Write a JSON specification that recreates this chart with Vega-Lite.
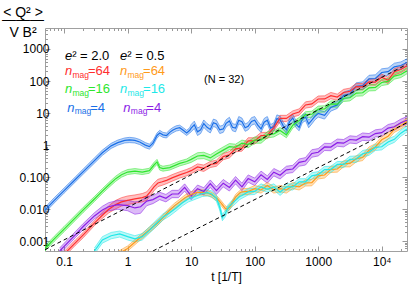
{
"$schema":"https://vega.github.io/schema/vega-lite/v6.json",
"autosize":{"type":"none"},
"padding":{"left":45,"top":28,"right":2,"bottom":33},
"width":362,"height":223,
"config":{"view":{"stroke":"#a0a0a0","strokeWidth":1},"font":"Liberation Sans"},
"datasets":{
"curves":[
{"s":"b","t":0.05,"q":0.0095,"lo":0.0079,"hi":0.0114},
{"s":"b","t":0.07,"q":0.019,"lo":0.0158,"hi":0.023},
{"s":"b","t":0.1,"q":0.038,"lo":0.032,"hi":0.046},
{"s":"b","t":0.15,"q":0.085,"lo":0.071,"hi":0.102},
{"s":"b","t":0.2,"q":0.15,"lo":0.125,"hi":0.18},
{"s":"b","t":0.3,"q":0.33,"lo":0.275,"hi":0.4},
{"s":"b","t":0.4,"q":0.58,"lo":0.48,"hi":0.7},
{"s":"b","t":0.55,"q":0.95,"lo":0.79,"hi":1.14},
{"s":"b","t":0.7,"q":1.2,"lo":1.0,"hi":1.44},
{"s":"b","t":0.9,"q":1.4,"lo":1.17,"hi":1.68},
{"s":"b","t":1.07,"q":1.45,"lo":1.2,"hi":1.75},
{"s":"b","t":1.3,"q":1.4,"lo":1.17,"hi":1.68},
{"s":"b","t":1.55,"q":1.25,"lo":1.04,"hi":1.5},
{"s":"b","t":1.9,"q":1.0,"lo":0.83,"hi":1.2},
{"s":"b","t":2.2,"q":0.9,"lo":0.75,"hi":1.08},
{"s":"b","t":2.5,"q":1.15,"lo":0.96,"hi":1.38},
{"s":"b","t":2.9,"q":2.0,"lo":1.67,"hi":2.4},
{"s":"b","t":3.2,"q":2.4,"lo":2.0,"hi":2.9},
{"s":"b","t":3.6,"q":2.1,"lo":1.75,"hi":2.5},
{"s":"b","t":4.1,"q":2.0,"lo":1.67,"hi":2.4},
{"s":"b","t":4.6,"q":2.5,"lo":2.1,"hi":3.0},
{"s":"b","t":5.1,"q":2.9,"lo":2.4,"hi":3.5},
{"s":"b","t":5.8,"q":3.3,"lo":2.75,"hi":4.0},
{"s":"b","t":6.6,"q":3.5,"lo":2.9,"hi":4.2},
{"s":"b","t":7.5,"q":2.9,"lo":2.4,"hi":3.5},
{"s":"b","t":8.5,"q":2.4,"lo":2.0,"hi":2.9},
{"s":"b","t":9.5,"q":2.9,"lo":2.4,"hi":3.5},
{"s":"b","t":10,"q":3.4,"lo":2.6,"hi":4.4},
{"s":"b","t":11.2,"q":4.3,"lo":3.3,"hi":5.6},
{"s":"b","t":12.6,"q":2.6,"lo":2.0,"hi":3.4},
{"s":"b","t":14.1,"q":3.0,"lo":2.3,"hi":3.9},
{"s":"b","t":15.8,"q":4.7,"lo":3.6,"hi":6.1},
{"s":"b","t":17.8,"q":3.6,"lo":2.8,"hi":4.7},
{"s":"b","t":20,"q":3.1,"lo":2.4,"hi":4.0},
{"s":"b","t":22.4,"q":5.0,"lo":3.85,"hi":6.5},
{"s":"b","t":25,"q":4.6,"lo":3.5,"hi":6.0},
{"s":"b","t":28.2,"q":3.0,"lo":2.3,"hi":3.9},
{"s":"b","t":32,"q":3.2,"lo":2.5,"hi":4.2},
{"s":"b","t":35.5,"q":4.8,"lo":3.7,"hi":6.2},
{"s":"b","t":40,"q":5.7,"lo":4.4,"hi":7.4},
{"s":"b","t":44.7,"q":3.6,"lo":2.8,"hi":4.7},
{"s":"b","t":50,"q":3.4,"lo":2.6,"hi":4.4},
{"s":"b","t":56.2,"q":6.0,"lo":4.6,"hi":7.8},
{"s":"b","t":63,"q":5.4,"lo":4.2,"hi":7.0},
{"s":"b","t":70.8,"q":3.5,"lo":2.7,"hi":4.55},
{"s":"b","t":79,"q":3.9,"lo":3.0,"hi":5.1},
{"s":"b","t":89.1,"q":5.5,"lo":4.2,"hi":7.2},
{"s":"b","t":100,"q":6.0,"lo":4.6,"hi":7.8},
{"s":"b","t":112,"q":4.2,"lo":3.2,"hi":5.5},
{"s":"b","t":126,"q":3.2,"lo":2.5,"hi":4.2},
{"s":"b","t":141,"q":5.2,"lo":4.0,"hi":6.8},
{"s":"b","t":158,"q":6.0,"lo":4.6,"hi":7.8},
{"s":"b","t":178,"q":3.4,"lo":2.6,"hi":4.4},
{"s":"b","t":200,"q":3.8,"lo":2.9,"hi":4.9},
{"s":"b","t":224,"q":6.8,"lo":5.2,"hi":8.8},
{"s":"b","t":251,"q":6.2,"lo":4.8,"hi":8.1},
{"s":"b","t":282,"q":4.0,"lo":3.1,"hi":5.2},
{"s":"b","t":316,"q":3.0,"lo":2.3,"hi":3.9},
{"s":"b","t":355,"q":5.4,"lo":4.2,"hi":7.0},
{"s":"b","t":398,"q":7.0,"lo":5.4,"hi":9.1},
{"s":"b","t":447,"q":4.5,"lo":3.5,"hi":5.9},
{"s":"b","t":501,"q":3.6,"lo":2.8,"hi":4.7},
{"s":"b","t":562,"q":6.5,"lo":5.0,"hi":8.5},
{"s":"b","t":631,"q":7.5,"lo":5.8,"hi":9.8},
{"s":"b","t":708,"q":4.6,"lo":3.5,"hi":6.0},
{"s":"b","t":794,"q":6.0,"lo":4.6,"hi":7.8},
{"s":"b","t":891,"q":8.0,"lo":6.2,"hi":10.4},
{"s":"b","t":1000,"q":9.8,"lo":7.5,"hi":12.7},
{"s":"b","t":1260,"q":8.5,"lo":6.5,"hi":11},
{"s":"b","t":1580,"q":15,"lo":11.5,"hi":19.5},
{"s":"b","t":2000,"q":18,"lo":14,"hi":23},
{"s":"b","t":2510,"q":35,"lo":27,"hi":45},
{"s":"b","t":3160,"q":40,"lo":31,"hi":52},
{"s":"b","t":3980,"q":68,"lo":52,"hi":88},
{"s":"b","t":5010,"q":72,"lo":55,"hi":94},
{"s":"b","t":6310,"q":116,"lo":89,"hi":151},
{"s":"b","t":7940,"q":120,"lo":92,"hi":156},
{"s":"b","t":10000,"q":184,"lo":142,"hi":240},
{"s":"b","t":12600,"q":195,"lo":150,"hi":254},
{"s":"b","t":15800,"q":276,"lo":213,"hi":360},
{"s":"b","t":20000,"q":304,"lo":234,"hi":395},
{"s":"b","t":25000,"q":380,"lo":293,"hi":494},

{"s":"r","t":0.1,"q":0.0004,"lo":0.00033,"hi":0.00048},
{"s":"r","t":0.15,"q":0.0009,"lo":0.00075,"hi":0.0011},
{"s":"r","t":0.2,"q":0.0016,"lo":0.0013,"hi":0.0019},
{"s":"r","t":0.3,"q":0.0037,"lo":0.0031,"hi":0.0044},
{"s":"r","t":0.4,"q":0.0065,"lo":0.0052,"hi":0.0081},
{"s":"r","t":0.5,"q":0.0098,"lo":0.0076,"hi":0.0127},
{"s":"r","t":0.65,"q":0.014,"lo":0.0104,"hi":0.019},
{"s":"r","t":0.8,"q":0.017,"lo":0.0126,"hi":0.023},
{"s":"r","t":1.0,"q":0.019,"lo":0.014,"hi":0.026},
{"s":"r","t":1.3,"q":0.021,"lo":0.0156,"hi":0.028},
{"s":"r","t":1.7,"q":0.023,"lo":0.017,"hi":0.031},
{"s":"r","t":2.0,"q":0.026,"lo":0.019,"hi":0.035},
{"s":"r","t":2.3,"q":0.036,"lo":0.027,"hi":0.049},
{"s":"r","t":2.6,"q":0.05,"lo":0.038,"hi":0.066},
{"s":"r","t":3.0,"q":0.066,"lo":0.051,"hi":0.086},
{"s":"r","t":3.5,"q":0.072,"lo":0.056,"hi":0.094},
{"s":"r","t":4.1,"q":0.08,"lo":0.063,"hi":0.1},
{"s":"r","t":5.0,"q":0.095,"lo":0.075,"hi":0.12},
{"s":"r","t":6.6,"q":0.118,"lo":0.094,"hi":0.148},
{"s":"r","t":8.5,"q":0.14,"lo":0.11,"hi":0.175},
{"s":"r","t":10,"q":0.16,"lo":0.128,"hi":0.2},
{"s":"r","t":12.6,"q":0.21,"lo":0.168,"hi":0.26},
{"s":"r","t":15.8,"q":0.19,"lo":0.152,"hi":0.24},
{"s":"r","t":20,"q":0.25,"lo":0.2,"hi":0.31},
{"s":"r","t":25,"q":0.27,"lo":0.22,"hi":0.34},
{"s":"r","t":32,"q":0.44,"lo":0.35,"hi":0.55},
{"s":"r","t":40,"q":0.5,"lo":0.4,"hi":0.63},
{"s":"r","t":50,"q":0.77,"lo":0.62,"hi":0.96},
{"s":"r","t":63,"q":0.81,"lo":0.65,"hi":1.0},
{"s":"r","t":79,"q":1.35,"lo":1.08,"hi":1.7},
{"s":"r","t":100,"q":1.35,"lo":1.08,"hi":1.7},
{"s":"r","t":126,"q":2.0,"lo":1.6,"hi":2.5},
{"s":"r","t":158,"q":2.0,"lo":1.6,"hi":2.5},
{"s":"r","t":200,"q":3.5,"lo":2.8,"hi":4.4},
{"s":"r","t":251,"q":6.8,"lo":5.4,"hi":8.5},
{"s":"r","t":316,"q":6.8,"lo":5.4,"hi":8.5},
{"s":"r","t":398,"q":9.4,"lo":7.5,"hi":11.7},
{"s":"r","t":501,"q":10.8,"lo":8.6,"hi":13.5},
{"s":"r","t":631,"q":17.9,"lo":14.3,"hi":22.4},
{"s":"r","t":794,"q":19.3,"lo":15.4,"hi":24},
{"s":"r","t":1000,"q":27.5,"lo":22,"hi":34},
{"s":"r","t":1260,"q":27.6,"lo":22,"hi":34.5},
{"s":"r","t":1580,"q":35,"lo":28,"hi":44},
{"s":"r","t":2000,"q":31.5,"lo":25,"hi":39},
{"s":"r","t":2510,"q":44,"lo":35,"hi":55},
{"s":"r","t":3160,"q":48,"lo":38,"hi":60},
{"s":"r","t":3980,"q":67,"lo":54,"hi":84},
{"s":"r","t":5010,"q":66,"lo":53,"hi":83},
{"s":"r","t":6310,"q":94,"lo":75,"hi":117},
{"s":"r","t":7940,"q":93,"lo":74,"hi":116},
{"s":"r","t":10000,"q":131,"lo":105,"hi":164},
{"s":"r","t":12600,"q":105,"lo":84,"hi":131},
{"s":"r","t":15800,"q":194,"lo":155,"hi":243},
{"s":"r","t":20000,"q":228,"lo":182,"hi":285},
{"s":"r","t":25000,"q":300,"lo":240,"hi":375},

{"s":"g","t":0.05,"q":0.0006,"lo":0.0005,"hi":0.00072},
{"s":"g","t":0.07,"q":0.0012,"lo":0.001,"hi":0.00144},
{"s":"g","t":0.1,"q":0.0024,"lo":0.002,"hi":0.0029},
{"s":"g","t":0.15,"q":0.0054,"lo":0.0045,"hi":0.0065},
{"s":"g","t":0.2,"q":0.0096,"lo":0.008,"hi":0.0115},
{"s":"g","t":0.3,"q":0.021,"lo":0.0175,"hi":0.025},
{"s":"g","t":0.4,"q":0.037,"lo":0.031,"hi":0.044},
{"s":"g","t":0.5,"q":0.056,"lo":0.047,"hi":0.067},
{"s":"g","t":0.65,"q":0.09,"lo":0.075,"hi":0.108},
{"s":"g","t":0.8,"q":0.12,"lo":0.1,"hi":0.144},
{"s":"g","t":1.0,"q":0.145,"lo":0.121,"hi":0.174},
{"s":"g","t":1.3,"q":0.155,"lo":0.13,"hi":0.186},
{"s":"g","t":1.7,"q":0.145,"lo":0.121,"hi":0.174},
{"s":"g","t":2.2,"q":0.16,"lo":0.133,"hi":0.19},
{"s":"g","t":2.6,"q":0.24,"lo":0.2,"hi":0.29},
{"s":"g","t":2.9,"q":0.3,"lo":0.25,"hi":0.36},
{"s":"g","t":3.2,"q":0.2,"lo":0.167,"hi":0.24},
{"s":"g","t":3.6,"q":0.185,"lo":0.154,"hi":0.22},
{"s":"g","t":4.6,"q":0.2,"lo":0.167,"hi":0.24},
{"s":"g","t":6.6,"q":0.27,"lo":0.225,"hi":0.32},
{"s":"g","t":8.5,"q":0.31,"lo":0.26,"hi":0.37},
{"s":"g","t":10,"q":0.36,"lo":0.29,"hi":0.45},
{"s":"g","t":12.6,"q":0.46,"lo":0.37,"hi":0.58},
{"s":"g","t":15.8,"q":0.48,"lo":0.38,"hi":0.6},
{"s":"g","t":20,"q":0.4,"lo":0.32,"hi":0.5},
{"s":"g","t":25,"q":0.53,"lo":0.42,"hi":0.66},
{"s":"g","t":32,"q":0.7,"lo":0.56,"hi":0.88},
{"s":"g","t":40,"q":0.9,"lo":0.72,"hi":1.12},
{"s":"g","t":50,"q":0.86,"lo":0.69,"hi":1.07},
{"s":"g","t":63,"q":1.15,"lo":0.92,"hi":1.44},
{"s":"g","t":79,"q":1.04,"lo":0.83,"hi":1.3},
{"s":"g","t":100,"q":1.43,"lo":1.14,"hi":1.8},
{"s":"g","t":126,"q":1.44,"lo":1.15,"hi":1.8},
{"s":"g","t":158,"q":2.1,"lo":1.68,"hi":2.6},
{"s":"g","t":200,"q":2.25,"lo":1.8,"hi":2.8},
{"s":"g","t":251,"q":2.85,"lo":2.3,"hi":3.55},
{"s":"g","t":316,"q":2.1,"lo":1.7,"hi":2.65},
{"s":"g","t":398,"q":4.2,"lo":3.4,"hi":5.3},
{"s":"g","t":501,"q":5.9,"lo":4.7,"hi":7.3},
{"s":"g","t":631,"q":8.9,"lo":7.1,"hi":11},
{"s":"g","t":794,"q":9.2,"lo":7.4,"hi":11.5},
{"s":"g","t":1000,"q":13.2,"lo":10.6,"hi":16.5},
{"s":"g","t":1260,"q":13.5,"lo":10.8,"hi":16.9},
{"s":"g","t":1580,"q":19.4,"lo":15.5,"hi":24},
{"s":"g","t":2000,"q":19,"lo":15.2,"hi":23.7},
{"s":"g","t":2510,"q":29,"lo":23,"hi":36},
{"s":"g","t":3160,"q":30,"lo":24,"hi":37.5},
{"s":"g","t":3980,"q":42,"lo":33.6,"hi":52},
{"s":"g","t":5010,"q":43,"lo":34.4,"hi":54},
{"s":"g","t":6310,"q":61,"lo":49,"hi":76},
{"s":"g","t":7940,"q":63,"lo":50,"hi":79},
{"s":"g","t":10000,"q":90,"lo":72,"hi":112},
{"s":"g","t":12600,"q":97,"lo":78,"hi":121},
{"s":"g","t":15800,"q":142,"lo":114,"hi":178},
{"s":"g","t":20000,"q":160,"lo":128,"hi":200},
{"s":"g","t":25000,"q":210,"lo":168,"hi":262},

{"s":"p","t":0.085,"q":0.0005,"lo":0.0004,"hi":0.00062},
{"s":"p","t":0.1,"q":0.0007,"lo":0.00056,"hi":0.00087},
{"s":"p","t":0.15,"q":0.0016,"lo":0.0013,"hi":0.002},
{"s":"p","t":0.2,"q":0.0029,"lo":0.0023,"hi":0.0036},
{"s":"p","t":0.3,"q":0.0062,"lo":0.005,"hi":0.0078},
{"s":"p","t":0.4,"q":0.0095,"lo":0.0073,"hi":0.0124},
{"s":"p","t":0.5,"q":0.012,"lo":0.0089,"hi":0.016},
{"s":"p","t":0.7,"q":0.014,"lo":0.01,"hi":0.019},
{"s":"p","t":1.0,"q":0.013,"lo":0.009,"hi":0.019},
{"s":"p","t":1.3,"q":0.011,"lo":0.007,"hi":0.017},
{"s":"p","t":1.6,"q":0.012,"lo":0.0075,"hi":0.018},
{"s":"p","t":2.0,"q":0.018,"lo":0.013,"hi":0.025},
{"s":"p","t":2.5,"q":0.02,"lo":0.015,"hi":0.027},
{"s":"p","t":3.2,"q":0.026,"lo":0.02,"hi":0.034},
{"s":"p","t":4.0,"q":0.022,"lo":0.017,"hi":0.029},
{"s":"p","t":5.0,"q":0.03,"lo":0.023,"hi":0.039},
{"s":"p","t":6.3,"q":0.03,"lo":0.023,"hi":0.039},
{"s":"p","t":7.9,"q":0.048,"lo":0.037,"hi":0.062},
{"s":"p","t":10,"q":0.026,"lo":0.02,"hi":0.034},
{"s":"p","t":12.6,"q":0.044,"lo":0.034,"hi":0.057},
{"s":"p","t":15.8,"q":0.036,"lo":0.028,"hi":0.047},
{"s":"p","t":20,"q":0.063,"lo":0.048,"hi":0.082},
{"s":"p","t":25,"q":0.038,"lo":0.029,"hi":0.05},
{"s":"p","t":32,"q":0.065,"lo":0.05,"hi":0.085},
{"s":"p","t":40,"q":0.048,"lo":0.037,"hi":0.062},
{"s":"p","t":50,"q":0.081,"lo":0.062,"hi":0.105},
{"s":"p","t":63,"q":0.05,"lo":0.038,"hi":0.065},
{"s":"p","t":79,"q":0.091,"lo":0.07,"hi":0.118},
{"s":"p","t":100,"q":0.072,"lo":0.055,"hi":0.094},
{"s":"p","t":126,"q":0.119,"lo":0.092,"hi":0.155},
{"s":"p","t":158,"q":0.085,"lo":0.065,"hi":0.11},
{"s":"p","t":200,"q":0.144,"lo":0.11,"hi":0.187},
{"s":"p","t":251,"q":0.115,"lo":0.088,"hi":0.15},
{"s":"p","t":316,"q":0.17,"lo":0.13,"hi":0.22},
{"s":"p","t":398,"q":0.18,"lo":0.14,"hi":0.235},
{"s":"p","t":501,"q":0.29,"lo":0.22,"hi":0.37},
{"s":"p","t":631,"q":0.32,"lo":0.24,"hi":0.41},
{"s":"p","t":794,"q":0.55,"lo":0.42,"hi":0.72},
{"s":"p","t":1000,"q":0.6,"lo":0.46,"hi":0.78},
{"s":"p","t":1260,"q":0.88,"lo":0.68,"hi":1.14},
{"s":"p","t":1580,"q":0.87,"lo":0.67,"hi":1.13},
{"s":"p","t":2000,"q":1.19,"lo":0.92,"hi":1.55},
{"s":"p","t":2510,"q":1.15,"lo":0.88,"hi":1.5},
{"s":"p","t":3160,"q":1.5,"lo":1.16,"hi":1.96},
{"s":"p","t":3980,"q":1.44,"lo":1.11,"hi":1.87},
{"s":"p","t":5010,"q":1.84,"lo":1.41,"hi":2.4},
{"s":"p","t":6310,"q":1.77,"lo":1.36,"hi":2.3},
{"s":"p","t":7940,"q":2.3,"lo":1.8,"hi":3.0},
{"s":"p","t":10000,"q":2.45,"lo":1.88,"hi":3.2},
{"s":"p","t":12600,"q":3.4,"lo":2.6,"hi":4.4},
{"s":"p","t":15800,"q":3.75,"lo":2.9,"hi":4.9},
{"s":"p","t":20000,"q":5.0,"lo":3.8,"hi":6.5},
{"s":"p","t":25000,"q":6.0,"lo":4.6,"hi":7.8},

{"s":"o","t":0.7,"q":0.0004,"lo":0.00033,"hi":0.00048},
{"s":"o","t":1.0,"q":0.0006,"lo":0.0005,"hi":0.00072},
{"s":"o","t":1.5,"q":0.0012,"lo":0.001,"hi":0.00144},
{"s":"o","t":2.2,"q":0.0023,"lo":0.0019,"hi":0.0028},
{"s":"o","t":3.0,"q":0.0038,"lo":0.0032,"hi":0.0046},
{"s":"o","t":3.6,"q":0.0055,"lo":0.0046,"hi":0.0066},
{"s":"o","t":4.5,"q":0.009,"lo":0.0075,"hi":0.0108},
{"s":"o","t":5.5,"q":0.013,"lo":0.0108,"hi":0.0156},
{"s":"o","t":6.6,"q":0.017,"lo":0.014,"hi":0.0204},
{"s":"o","t":8.0,"q":0.023,"lo":0.019,"hi":0.028},
{"s":"o","t":10,"q":0.029,"lo":0.024,"hi":0.035},
{"s":"o","t":12,"q":0.033,"lo":0.0275,"hi":0.04},
{"s":"o","t":15,"q":0.034,"lo":0.028,"hi":0.041},
{"s":"o","t":19,"q":0.031,"lo":0.026,"hi":0.037},
{"s":"o","t":22,"q":0.027,"lo":0.0225,"hi":0.032},
{"s":"o","t":26,"q":0.021,"lo":0.0175,"hi":0.025},
{"s":"o","t":30,"q":0.015,"lo":0.0125,"hi":0.018},
{"s":"o","t":34,"q":0.011,"lo":0.0092,"hi":0.0132},
{"s":"o","t":37,"q":0.0098,"lo":0.0082,"hi":0.0118},
{"s":"o","t":41,"q":0.012,"lo":0.01,"hi":0.0144},
{"s":"o","t":45,"q":0.017,"lo":0.014,"hi":0.02},
{"s":"o","t":50,"q":0.024,"lo":0.02,"hi":0.029},
{"s":"o","t":58,"q":0.032,"lo":0.027,"hi":0.038},
{"s":"o","t":63,"q":0.035,"lo":0.028,"hi":0.044},
{"s":"o","t":79,"q":0.036,"lo":0.029,"hi":0.045},
{"s":"o","t":100,"q":0.044,"lo":0.035,"hi":0.055},
{"s":"o","t":126,"q":0.04,"lo":0.032,"hi":0.05},
{"s":"o","t":158,"q":0.055,"lo":0.044,"hi":0.069},
{"s":"o","t":200,"q":0.04,"lo":0.032,"hi":0.05},
{"s":"o","t":251,"q":0.044,"lo":0.035,"hi":0.055},
{"s":"o","t":316,"q":0.04,"lo":0.032,"hi":0.05},
{"s":"o","t":398,"q":0.055,"lo":0.044,"hi":0.069},
{"s":"o","t":501,"q":0.05,"lo":0.04,"hi":0.062},
{"s":"o","t":631,"q":0.066,"lo":0.053,"hi":0.083},
{"s":"o","t":794,"q":0.068,"lo":0.054,"hi":0.085},
{"s":"o","t":1000,"q":0.11,"lo":0.088,"hi":0.138},
{"s":"o","t":1260,"q":0.117,"lo":0.094,"hi":0.146},
{"s":"o","t":1580,"q":0.176,"lo":0.14,"hi":0.22},
{"s":"o","t":2000,"q":0.18,"lo":0.144,"hi":0.225},
{"s":"o","t":2510,"q":0.26,"lo":0.21,"hi":0.325},
{"s":"o","t":3160,"q":0.27,"lo":0.21,"hi":0.33},
{"s":"o","t":3980,"q":0.38,"lo":0.3,"hi":0.47},
{"s":"o","t":5010,"q":0.41,"lo":0.33,"hi":0.52},
{"s":"o","t":6310,"q":0.7,"lo":0.56,"hi":0.88},
{"s":"o","t":7940,"q":0.88,"lo":0.71,"hi":1.1},
{"s":"o","t":10000,"q":1.47,"lo":1.18,"hi":1.84},
{"s":"o","t":12600,"q":1.9,"lo":1.52,"hi":2.4},
{"s":"o","t":15800,"q":3.1,"lo":2.5,"hi":3.9},
{"s":"o","t":20000,"q":4.0,"lo":3.2,"hi":5.0},
{"s":"o","t":25000,"q":5.5,"lo":4.4,"hi":6.9},

{"s":"c","t":0.3,"q":0.0005,"lo":0.0004,"hi":0.00062},
{"s":"c","t":0.4,"q":0.0011,"lo":0.00088,"hi":0.0014},
{"s":"c","t":0.55,"q":0.0015,"lo":0.0012,"hi":0.0019},
{"s":"c","t":0.75,"q":0.0017,"lo":0.00136,"hi":0.0021},
{"s":"c","t":1.0,"q":0.0014,"lo":0.0011,"hi":0.00175},
{"s":"c","t":1.3,"q":0.0012,"lo":0.00096,"hi":0.0015},
{"s":"c","t":1.7,"q":0.0014,"lo":0.0011,"hi":0.00175},
{"s":"c","t":2.2,"q":0.0022,"lo":0.0018,"hi":0.0028},
{"s":"c","t":2.9,"q":0.0038,"lo":0.003,"hi":0.0048},
{"s":"c","t":3.6,"q":0.0058,"lo":0.0046,"hi":0.0072},
{"s":"c","t":4.6,"q":0.0078,"lo":0.0062,"hi":0.0098},
{"s":"c","t":5.8,"q":0.011,"lo":0.0088,"hi":0.0138},
{"s":"c","t":7.3,"q":0.016,"lo":0.0128,"hi":0.02},
{"s":"c","t":9,"q":0.021,"lo":0.0168,"hi":0.026},
{"s":"c","t":12,"q":0.026,"lo":0.021,"hi":0.0325},
{"s":"c","t":15,"q":0.031,"lo":0.025,"hi":0.039},
{"s":"c","t":18,"q":0.033,"lo":0.026,"hi":0.041},
{"s":"c","t":21,"q":0.03,"lo":0.024,"hi":0.0375},
{"s":"c","t":25,"q":0.022,"lo":0.0176,"hi":0.0275},
{"s":"c","t":28,"q":0.012,"lo":0.0096,"hi":0.015},
{"s":"c","t":31,"q":0.0055,"lo":0.0044,"hi":0.0069},
{"s":"c","t":34,"q":0.007,"lo":0.0056,"hi":0.0088},
{"s":"c","t":38,"q":0.011,"lo":0.0088,"hi":0.0138},
{"s":"c","t":44,"q":0.015,"lo":0.012,"hi":0.019},
{"s":"c","t":50,"q":0.019,"lo":0.015,"hi":0.024},
{"s":"c","t":58,"q":0.025,"lo":0.02,"hi":0.031},
{"s":"c","t":63,"q":0.027,"lo":0.022,"hi":0.034},
{"s":"c","t":79,"q":0.035,"lo":0.028,"hi":0.044},
{"s":"c","t":100,"q":0.036,"lo":0.029,"hi":0.045},
{"s":"c","t":126,"q":0.05,"lo":0.04,"hi":0.062},
{"s":"c","t":158,"q":0.042,"lo":0.034,"hi":0.053},
{"s":"c","t":200,"q":0.05,"lo":0.04,"hi":0.062},
{"s":"c","t":251,"q":0.034,"lo":0.027,"hi":0.043},
{"s":"c","t":316,"q":0.05,"lo":0.04,"hi":0.062},
{"s":"c","t":398,"q":0.05,"lo":0.04,"hi":0.062},
{"s":"c","t":501,"q":0.072,"lo":0.057,"hi":0.09},
{"s":"c","t":631,"q":0.072,"lo":0.058,"hi":0.09},
{"s":"c","t":794,"q":0.11,"lo":0.088,"hi":0.138},
{"s":"c","t":1000,"q":0.12,"lo":0.096,"hi":0.15},
{"s":"c","t":1260,"q":0.173,"lo":0.138,"hi":0.216},
{"s":"c","t":1580,"q":0.175,"lo":0.14,"hi":0.22},
{"s":"c","t":2000,"q":0.25,"lo":0.2,"hi":0.31},
{"s":"c","t":2510,"q":0.25,"lo":0.2,"hi":0.31},
{"s":"c","t":3160,"q":0.36,"lo":0.29,"hi":0.45},
{"s":"c","t":3980,"q":0.37,"lo":0.29,"hi":0.46},
{"s":"c","t":5010,"q":0.54,"lo":0.43,"hi":0.68},
{"s":"c","t":6310,"q":0.6,"lo":0.48,"hi":0.75},
{"s":"c","t":7940,"q":0.85,"lo":0.68,"hi":1.06},
{"s":"c","t":10000,"q":0.89,"lo":0.71,"hi":1.12},
{"s":"c","t":12600,"q":1.26,"lo":1.0,"hi":1.58},
{"s":"c","t":15800,"q":1.52,"lo":1.22,"hi":1.9},
{"s":"c","t":20000,"q":2.37,"lo":1.9,"hi":2.96},
{"s":"c","t":25000,"q":3.2,"lo":2.56,"hi":4.0}
],
"dash":[
{"g":"u","t":0.05,"q":0.00055},{"g":"u","t":25000,"q":330},
{"g":"l","t":2.5,"q":0.0005},{"g":"l","t":25000,"q":5.0}
],
"elabels":[
{"t":0.103,"q":451,"s":"k","rest":"² = 2.0"},
{"t":0.759,"q":451,"s":"k","rest":"² = 0.5"}
],
"nlabels":[
{"t":0.103,"q":153,"s":"r","num":"=64"},
{"t":0.103,"q":41,"s":"g","num":"=16"},
{"t":0.112,"q":11,"s":"b","num":"=4"},
{"t":0.759,"q":153,"s":"o","num":"=64"},
{"t":0.759,"q":41,"s":"c","num":"=16"},
{"t":0.855,"q":11,"s":"p","num":"=4"}
],
"nlabel":[{"t":33,"q":107,"txt":"(N = 32)"}]
},
"layer":[
{"data":{"name":"curves"},
 "mark":{"type":"area","opacity":0.3,"clip":true},
 "encoding":{
  "x":{"field":"t","type":"quantitative","scale":{"type":"log","domain":[0.05,25000]},
   "axis":{"orient":"bottom","values":[0.06,0.07,0.08,0.09,0.1,0.2,0.3,0.4,0.5,0.6,0.7,0.8,0.9,1,2,3,4,5,6,7,8,9,10,20,30,40,50,60,70,80,90,100,200,300,400,500,600,700,800,900,1000,2000,3000,4000,5000,6000,7000,8000,9000,10000,20000],
    "labelExpr":"datum.value==10000 ? '10⁴' : (indexof([0.1,1,10,100,1000],datum.value)>=0 ? (datum.value<1 ? '0.1' : format(datum.value,'d')) : '')",
    "tickSize":{"condition":{"test":"indexof([0.1,1,10,100,1000,10000],datum.value)>=0","value":-5},"value":-2.5},
    "tickColor":"#999999","domain":false,"grid":false,"labelOverlap":false,"labelBound":false,"labelFlush":false,
    "labelFontSize":12,"labelColor":"#000000","labelFont":"Liberation Sans","labelPadding":10,
    "title":"t [1/T]","titleFontSize":12,"titleFontWeight":"normal","titleFont":"Liberation Sans","titleColor":"#000000","titlePadding":2}},
  "y":{"field":"lo","type":"quantitative","scale":{"type":"log","domain":[0.0005,4500]},
   "axis":{"orient":"left","values":[0.0006,0.0007,0.0008,0.0009,0.001,0.002,0.003,0.004,0.005,0.006,0.007,0.008,0.009,0.01,0.02,0.03,0.04,0.05,0.06,0.07,0.08,0.09,0.1,0.2,0.3,0.4,0.5,0.6,0.7,0.8,0.9,1,2,3,4,5,6,7,8,9,10,20,30,40,50,60,70,80,90,100,200,300,400,500,600,700,800,900,1000,2000,3000,4000],
    "labelExpr":"indexof([0.001,0.01,0.1],datum.value)>=0 ? format(datum.value,'.3f') : (indexof([1,10,100,1000],datum.value)>=0 ? format(datum.value,'d') : '')",
    "tickSize":{"condition":{"test":"indexof([0.001,0.01,0.1,1,10,100,1000],datum.value)>=0","value":-5},"value":-2.5},
    "tickColor":"#999999","domain":false,"grid":false,"labelOverlap":false,"labelBound":false,"labelFlush":false,
    "labelFontSize":12,"labelColor":"#000000","labelFont":"Liberation Sans","labelPadding":1,
    "title":["< Q² >","V B²"],"titleAngle":0,"titleAlign":"center","titleBaseline":"alphabetic",
    "titleX":-22.5,"titleY":-11.5,"titleLineHeight":20,"titleFontSize":14,"titleFontWeight":"normal","titleFont":"Liberation Sans","titleColor":"#000000"}},
  "y2":{"field":"hi"},
  "color":{"field":"s","type":"nominal","scale":{"domain":["r","g","b","o","c","p","k"],"range":["#ff2e2e","#2ee62e","#1a6fe8","#ff9a1a","#1ee8e8","#8b1ee6","#000000"]},"legend":null}
 }},
{"data":{"name":"curves"},
 "mark":{"type":"line","strokeWidth":0.7,"opacity":0.75,"clip":true},
 "encoding":{
  "x":{"field":"t","type":"quantitative","scale":{"type":"log","domain":[0.05,25000]},"axis":null},
  "y":{"field":"lo","type":"quantitative","scale":{"type":"log","domain":[0.0005,4500]},"axis":null},
  "color":{"field":"s","type":"nominal","legend":null}
 }},
{"data":{"name":"curves"},
 "mark":{"type":"line","strokeWidth":0.7,"opacity":0.75,"clip":true},
 "encoding":{
  "x":{"field":"t","type":"quantitative","scale":{"type":"log","domain":[0.05,25000]},"axis":null},
  "y":{"field":"hi","type":"quantitative","scale":{"type":"log","domain":[0.0005,4500]},"axis":null},
  "color":{"field":"s","type":"nominal","legend":null}
 }},
{"data":{"name":"curves"},
 "mark":{"type":"line","strokeWidth":1.2,"clip":true},
 "encoding":{
  "x":{"field":"t","type":"quantitative","scale":{"type":"log","domain":[0.05,25000]},"axis":null},
  "y":{"field":"q","type":"quantitative","scale":{"type":"log","domain":[0.0005,4500]},"axis":null},
  "color":{"field":"s","type":"nominal","legend":null}
 }},
{"data":{"name":"dash"},
 "mark":{"type":"line","strokeWidth":1,"color":"#000000","strokeDash":[4,3],"clip":true},
 "encoding":{
  "x":{"field":"t","type":"quantitative","scale":{"type":"log","domain":[0.05,25000]},
   "axis":{"orient":"top","values":[0.06,0.07,0.08,0.09,0.1,0.2,0.3,0.4,0.5,0.6,0.7,0.8,0.9,1,2,3,4,5,6,7,8,9,10,20,30,40,50,60,70,80,90,100,200,300,400,500,600,700,800,900,1000,2000,3000,4000,5000,6000,7000,8000,9000,10000,20000],
    "labels":false,"domain":false,"grid":false,"tickColor":"#999999",
    "tickSize":{"condition":{"test":"indexof([0.1,1,10,100,1000,10000],datum.value)>=0","value":-5},"value":-2.5},
    "title":"———","titleAngle":0,"titleAlign":"center","titleBaseline":"alphabetic","titleX":-22.5,"titleY":-5,
    "titleFontSize":14,"titleFontWeight":"normal","titleFont":"Liberation Sans","titleColor":"#000000"}},
  "y":{"field":"q","type":"quantitative","scale":{"type":"log","domain":[0.0005,4500]},
   "axis":{"orient":"right","values":[0.0006,0.0007,0.0008,0.0009,0.001,0.002,0.003,0.004,0.005,0.006,0.007,0.008,0.009,0.01,0.02,0.03,0.04,0.05,0.06,0.07,0.08,0.09,0.1,0.2,0.3,0.4,0.5,0.6,0.7,0.8,0.9,1,2,3,4,5,6,7,8,9,10,20,30,40,50,60,70,80,90,100,200,300,400,500,600,700,800,900,1000,2000,3000,4000],
    "labels":false,"title":null,"domain":false,"grid":false,"tickColor":"#999999",
    "tickSize":{"condition":{"test":"indexof([0.001,0.01,0.1,1,10,100,1000],datum.value)>=0","value":-5},"value":-2.5}}},
  "detail":{"field":"g"}
 }},
{"data":{"name":"elabels"},
 "mark":{"type":"text","align":"left","baseline":"alphabetic","fontSize":13,"fontStyle":"italic","font":"Liberation Sans"},
 "encoding":{
  "x":{"field":"t","type":"quantitative","scale":{"type":"log","domain":[0.05,25000]},"axis":null},
  "y":{"field":"q","type":"quantitative","scale":{"type":"log","domain":[0.0005,4500]},"axis":null},
  "text":{"value":"e"},
  "color":{"field":"s","type":"nominal","legend":null}
 }},
{"data":{"name":"elabels"},
 "mark":{"type":"text","align":"left","baseline":"alphabetic","fontSize":13,"dx":7.2,"font":"Liberation Sans"},
 "encoding":{
  "x":{"field":"t","type":"quantitative","scale":{"type":"log","domain":[0.05,25000]},"axis":null},
  "y":{"field":"q","type":"quantitative","scale":{"type":"log","domain":[0.0005,4500]},"axis":null},
  "text":{"field":"rest"},
  "color":{"field":"s","type":"nominal","legend":null}
 }},
{"data":{"name":"nlabels"},
 "mark":{"type":"text","align":"left","baseline":"alphabetic","fontSize":13,"fontStyle":"italic","font":"Liberation Sans"},
 "encoding":{
  "x":{"field":"t","type":"quantitative","scale":{"type":"log","domain":[0.05,25000]},"axis":null},
  "y":{"field":"q","type":"quantitative","scale":{"type":"log","domain":[0.0005,4500]},"axis":null},
  "text":{"value":"n"},
  "color":{"field":"s","type":"nominal","legend":null}
 }},
{"data":{"name":"nlabels"},
 "mark":{"type":"text","align":"left","baseline":"alphabetic","fontSize":8.5,"dx":7.5,"dy":2.5,"font":"Liberation Sans"},
 "encoding":{
  "x":{"field":"t","type":"quantitative","scale":{"type":"log","domain":[0.05,25000]},"axis":null},
  "y":{"field":"q","type":"quantitative","scale":{"type":"log","domain":[0.0005,4500]},"axis":null},
  "text":{"value":"mag"},
  "color":{"field":"s","type":"nominal","legend":null}
 }},
{"data":{"name":"nlabels"},
 "mark":{"type":"text","align":"left","baseline":"alphabetic","fontSize":13,"dx":23,"font":"Liberation Sans"},
 "encoding":{
  "x":{"field":"t","type":"quantitative","scale":{"type":"log","domain":[0.05,25000]},"axis":null},
  "y":{"field":"q","type":"quantitative","scale":{"type":"log","domain":[0.0005,4500]},"axis":null},
  "text":{"field":"num"},
  "color":{"field":"s","type":"nominal","legend":null}
 }},
{"data":{"name":"nlabel"},
 "mark":{"type":"text","align":"center","baseline":"middle","fontSize":11,"color":"#000000","font":"Liberation Sans"},
 "encoding":{
  "x":{"field":"t","type":"quantitative","scale":{"type":"log","domain":[0.05,25000]},"axis":null},
  "y":{"field":"q","type":"quantitative","scale":{"type":"log","domain":[0.0005,4500]},"axis":null},
  "text":{"field":"txt"}
 }}
],
"resolve":{"axis":{"x":"independent","y":"independent"}}
}
